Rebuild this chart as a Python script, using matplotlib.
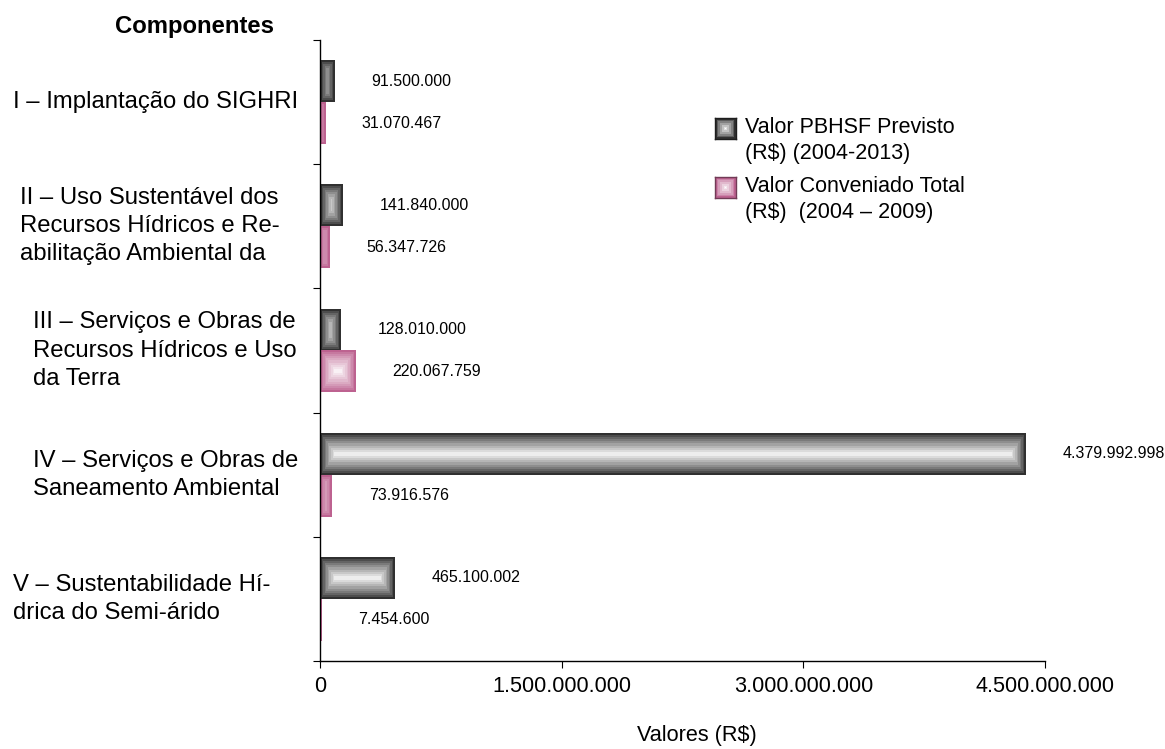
import numpy as np
import matplotlib.pyplot as plt
from matplotlib.transforms import blended_transform_factory
from matplotlib.colors import to_rgb

plt.rcParams['font.family'] = ['Liberation Sans', 'DejaVu Sans']

# dados
componentes = ['I – Implantação do SIGHRI',
               'II – Uso Sustentável dos\nRecursos Hídricos e Re-\nabilitação Ambiental da',
               'III – Serviços e Obras de\nRecursos Hídricos e Uso\nda Terra',
               'IV – Serviços e Obras de\nSaneamento Ambiental',
               'V – Sustentabilidade Hí-\ndrica do Semi-árido']
previsto = [91500000, 141840000, 128010000, 4379992998, 465100002]
conveniado = [31070467, 56347726, 220067759, 73916576, 7454600]
series = ['Valor PBHSF Previsto\n(R$) (2004-2013)',
          'Valor Conveniado Total\n(R$)  (2004 – 2009)']
xticks = [0, 1500000000, 3000000000, 4500000000]

W, H = 1165, 749
dpi = 100
cor_cinza = to_rgb('#303030')
cor_rosa = to_rgb('#bd6290')
label_left = [13, 20, 33, 33, 13]  # px, left edge of each category label


def fmt(v):
    return '{:,}'.format(int(v)).replace(',', '.')


def gradiente(nx, ny, edge, sx=0.75, nlev=10):
    # rectangular "from centre" gradient, stepped like the original
    nx = max(int(round(nx)), 1)
    ny = max(int(round(ny)), 1)
    xs = np.arange(nx) + 0.5
    ys = np.arange(ny) + 0.5
    half = ny / 2.
    tx = np.clip(np.minimum(xs, nx - xs) / (half * sx), 0, 1)
    ty = np.clip(np.minimum(ys, ny - ys) / half, 0, 1)
    t = np.minimum(tx[None, :], ty[:, None])
    t = np.floor(t * nlev) / nlev
    t = t ** 0.85
    edge = np.array(edge)
    return edge + (1 - edge) * t[..., None]


fig = plt.figure(figsize=(W / dpi, H / dpi), dpi=dpi)
ax = fig.add_axes([320 / W, 88 / H, 725 / W, 621 / H])

ypos = np.arange(len(componentes))
hb = 0.338
off = 0.169

ax.set_xlim(0, 4500000000)
ax.set_ylim(4.5, -0.5)

b1 = ax.barh(ypos - off, previsto, height=hb, color='none', edgecolor='none')
b2 = ax.barh(ypos + off, conveniado, height=hb, color='none', edgecolor='none')

for bars, cor in [(b1, cor_cinza), (b2, cor_rosa)]:
    for p in bars:
        x0, y0, w, h = p.get_x(), p.get_y(), p.get_width(), p.get_height()
        (px0, py0), (px1, py1) = ax.transData.transform([(x0, y0), (x0 + w, y0 + h)])
        img = gradiente(abs(px1 - px0), abs(py1 - py0), cor)
        ax.imshow(img, extent=[x0, x0 + w, y0 + h, y0], aspect='auto',
                  interpolation='nearest', zorder=2)

ax.set_xlim(0, 4500000000)
ax.set_ylim(4.5, -0.5)

# value labels
for vals, dy in [(previsto, -off), (conveniado, off)]:
    for i, v in enumerate(vals):
        ax.annotate(fmt(v), xy=(v, ypos[i] + dy), xytext=(26.6, 0),
                    textcoords='offset points', va='center', ha='left',
                    fontsize=11.5)

for s in ['top', 'right']:
    ax.spines[s].set_visible(False)
for s in ['left', 'bottom']:
    ax.spines[s].set_linewidth(1.0)

ax.set_yticks(np.arange(-0.5, len(componentes), 1))
ax.set_yticklabels([])
ax.tick_params(axis='y', length=5, width=0.8, direction='out')
ax.set_xticks(xticks)
ax.set_xticklabels([fmt(v) for v in xticks], fontsize=15.6)
ax.tick_params(axis='x', length=5, width=0.8, direction='out', pad=6)

tr = blended_transform_factory(fig.transFigure, ax.transData)
for i, lab in enumerate(componentes):
    ax.text(label_left[i] / W, ypos[i], lab, transform=tr, ha='left',
            va='center', multialignment='left', fontsize=17.2,
            linespacing=1.36)

fig.text(195 / W, 1 - 26 / H, 'Componentes', ha='center', va='center',
         fontsize=17.2, fontweight='bold')
fig.text(697 / W, 1 - 735 / H, 'Valores (R$)', ha='center', va='center',
         fontsize=15.6)

# legend
leg_y = [118, 177]
for i, (nome, cor) in enumerate([(series[0], cor_cinza), (series[1], cor_rosa)]):
    lax = fig.add_axes([715 / W, 1 - (leg_y[i] + 21) / H, 21 / W, 21 / H])
    lax.imshow(gradiente(21, 21, cor, sx=1.0, nlev=6), aspect='auto',
               interpolation='nearest')
    lax.set_xticks([])
    lax.set_yticks([])
    for sp in lax.spines.values():
        sp.set_color(np.array(cor) * 0.6)
        sp.set_linewidth(1.0)
    fig.text(745 / W, 1 - (leg_y[i] - 1) / H, nome, ha='left', va='top',
             fontsize=15.5, linespacing=1.32)

fig.savefig('out.png', dpi=dpi)
